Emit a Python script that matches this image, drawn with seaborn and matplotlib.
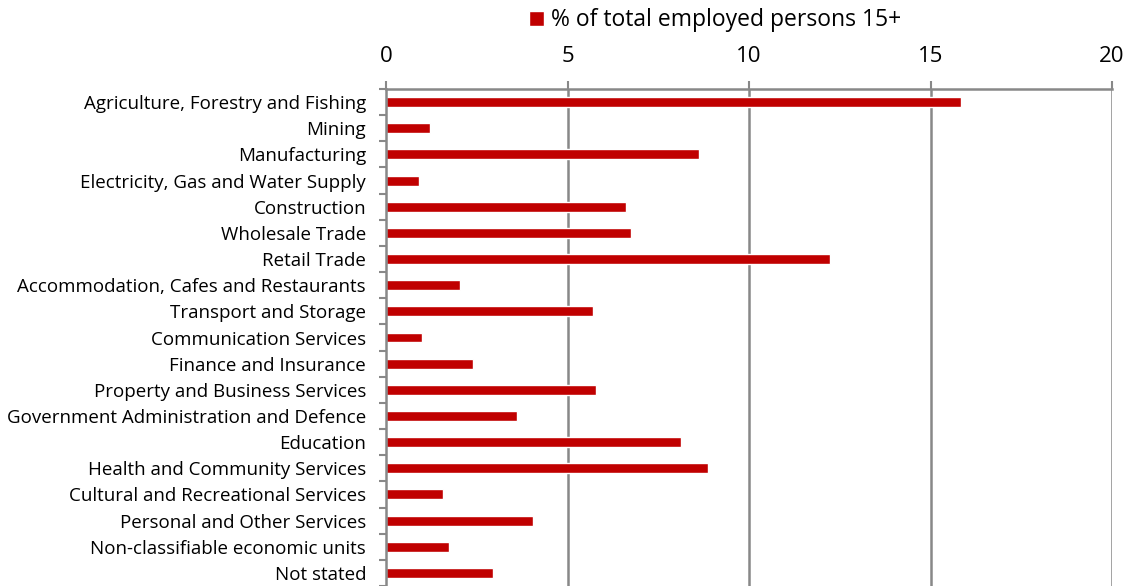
import matplotlib
matplotlib.use("Agg")
import matplotlib.pyplot as plt
import seaborn as sns
import pandas as pd
import numpy as np
from matplotlib.ticker import FixedLocator

categories = [
    "Agriculture, Forestry and Fishing",
    "Mining",
    "Manufacturing",
    "Electricity, Gas and Water Supply",
    "Construction",
    "Wholesale Trade",
    "Retail Trade",
    "Accommodation, Cafes and Restaurants",
    "Transport and Storage",
    "Communication Services",
    "Finance and Insurance",
    "Property and Business Services",
    "Government Administration and Defence",
    "Education",
    "Health and Community Services",
    "Cultural and Recreational Services",
    "Personal and Other Services",
    "Non-classifiable economic units",
    "Not stated",
]
values = [15.85, 1.20, 8.63, 0.91, 6.61, 6.76, 12.22, 2.03, 5.71, 0.98,
          2.41, 5.78, 3.61, 8.12, 8.87, 1.58, 4.05, 1.73, 2.94]
series_name = "% of total employed persons 15+"
x_ticks = [0, 5, 10, 15, 20]

sns.set_theme(style="white")
plt.rcParams['font.family'] = ['Open Sans', 'DejaVu Sans']
plt.rcParams['text.color'] = '#000000'

df = pd.DataFrame({"category": categories, "value": values, "series": series_name})

fig = plt.figure(figsize=(11.31, 5.86), dpi=100)
ax = fig.add_axes([0.3413, 0.0, 0.9832 - 0.3413, 0.8481])

sns.barplot(data=df, y="category", x="value", hue="series", palette=["#C00000"],
            orient="h", width=0.38, ax=ax, legend=True, saturation=1)

ax.set_xlim(0, 20)
ax.set_ylim(len(categories) - 0.5, -0.5)
ax.xaxis.tick_top()
ax.set_xticks(x_ticks)
ax.set_xticklabels([str(t) for t in x_ticks], fontsize=16, color="#000000")
ax.tick_params(axis="x", which="major", length=5.8, width=1.5, color="#888888", pad=10, top=True, bottom=False)
ax.set_xlabel("")
ax.set_ylabel("")
ax.tick_params(axis="y", which="major", length=0, labelsize=13.5, pad=14.4, labelcolor="#000000")
ax.yaxis.set_minor_locator(FixedLocator(np.arange(-0.5, len(categories), 1.0)))
ax.tick_params(axis="y", which="minor", length=5, width=1.5, color="#888888", left=True)

for x in x_ticks[1:]:
    ax.axvline(x, color="#888888", lw=1.8, zorder=0)

for s in ["bottom", "right"]:
    ax.spines[s].set_visible(False)
for s in ["top", "left"]:
    ax.spines[s].set_visible(True)
    ax.spines[s].set_color("#888888")
    ax.spines[s].set_linewidth(1.8)

sns.move_legend(ax, "center left", bbox_to_anchor=(529 / 1131, 1 - 20.5 / 586), bbox_transform=fig.transFigure,
                frameon=False, title=None, fontsize=16.5, handlelength=0.65, handleheight=0.65,
                handletextpad=0.3, borderpad=0, borderaxespad=0)
for t in ax.get_legend().get_texts():
    t.set_color("#000000")

fig.savefig("out.png", dpi=100)
